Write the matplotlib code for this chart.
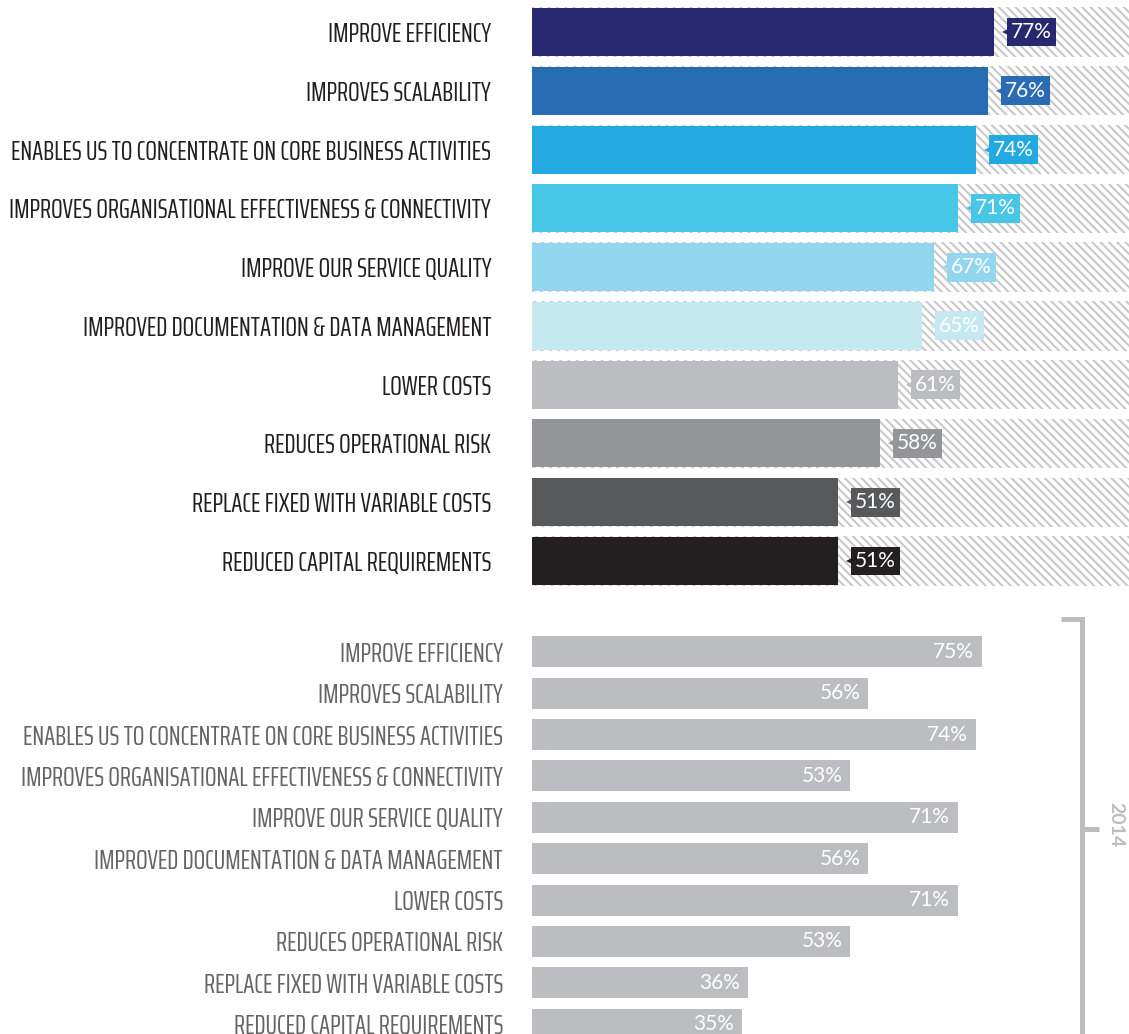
import matplotlib
matplotlib.use("Agg")
import matplotlib.pyplot as plt
from matplotlib.lines import Line2D

# survey answers, same order in both years
benefits = [
    "IMPROVE EFFICIENCY",
    "IMPROVES SCALABILITY",
    "ENABLES US TO CONCENTRATE ON CORE BUSINESS ACTIVITIES",
    "IMPROVES ORGANISATIONAL EFFECTIVENESS & CONNECTIVITY",
    "IMPROVE OUR SERVICE QUALITY",
    "IMPROVED DOCUMENTATION & DATA MANAGEMENT",
    "LOWER COSTS",
    "REDUCES OPERATIONAL RISK",
    "REPLACE FIXED WITH VARIABLE COSTS",
    "REDUCED CAPITAL REQUIREMENTS",
]
share_2015 = [77, 76, 74, 71, 67, 65, 61, 58, 51, 51]
share_2014 = [75, 56, 74, 53, 71, 56, 71, 53, 36, 35]
year_label = "2014"

bar_colors = ["#27286f", "#2a6cb3", "#23a9e1", "#48c6e8", "#92d7ef",
              "#c6e8f0", "#bcbdc1", "#939598", "#58595b", "#231f20"]
grey_bar = "#bcbdc1"
hatch_grey = "#c9c9cb"

label_font = "Saira ExtraCondensed"
value_font = "Lato"

plt.rcParams["hatch.linewidth"] = 1.5
plt.rcParams["hatch.color"] = hatch_grey

W, H = 1129, 1034
fig = plt.figure(figsize=(W / 100, H / 100), dpi=100)
fig.patch.set_facecolor("white")


def px_axes(left, top, right, bottom):
    return fig.add_axes([left / W, (H - bottom) / H, (right - left) / W, (bottom - top) / H])


ax1 = px_axes(532, 2.6, 1129, 590.4)
ax2 = px_axes(532, 631.3, 1129, 1044.7)

rows = list(range(len(benefits)))

# upper block: hatched 100% track behind each coloured bar
ax1.barh(rows, [100] * len(rows), height=0.84, color="white",
         edgecolor=hatch_grey, linewidth=0, hatch="\\\\\\\\")
ax1.barh(rows, share_2015, height=0.817, color=bar_colors, linewidth=0)

# value tags with a small pointer
gap, box_w = 2.17, 8.17
ax1.barh(rows, [box_w] * len(rows), left=[v + gap for v in share_2015],
         height=0.49, color=bar_colors, linewidth=0)
for r, v, c in zip(rows, share_2015, bar_colors):
    ax1.plot(v + gap, r, marker="<", markersize=7, color=c, markeredgewidth=0)
    ax1.text(v + gap + box_w / 2, r, f"{v}%", ha="center", va="center",
             color="white", fontsize=15, family=value_font)

# lower block: previous year
ax2.barh(rows, share_2014, height=0.75, color=grey_bar, linewidth=0)
for r, v in zip(rows, share_2014):
    ax2.text(v - 1.3, r, f"{v}%", ha="right", va="center",
             color="white", fontsize=15, family=value_font)

for ax, pad, col in ((ax1, 29.5, "#231f20"), (ax2, 20.9, "#646567")):
    ax.set_xlim(0, 99.5)
    ax.set_ylim(len(rows) - 0.5, -0.5)
    ax.set_yticks(rows)
    ax.set_yticklabels(benefits, family=label_font, fontweight="normal",
                       fontsize=19.6, color=col)
    ax.tick_params(axis="y", length=0, pad=pad)
    ax.set_xticks([])
    for s in ax.spines.values():
        s.set_visible(False)
    ax.set_facecolor("none")

# bracket marking the 2014 block
def fx(x):
    return x / W


def fy(y):
    return (H - y) / H


br = "#bcbdc0"
fig.add_artist(Line2D([fx(1061), fx(1082), fx(1082)], [fy(619), fy(619), fy(1040)],
                      color=br, lw=3.6, solid_joinstyle="miter", solid_capstyle="butt"))
fig.add_artist(Line2D([fx(1082), fx(1099)], [fy(829), fy(829)],
                      color=br, lw=3.6, solid_capstyle="butt"))
fig.text(fx(1116), fy(825), year_label, rotation=270, ha="center", va="center",
         fontsize=14, fontweight="bold", color=br, family=value_font)

fig.savefig("out.png", dpi=100)
